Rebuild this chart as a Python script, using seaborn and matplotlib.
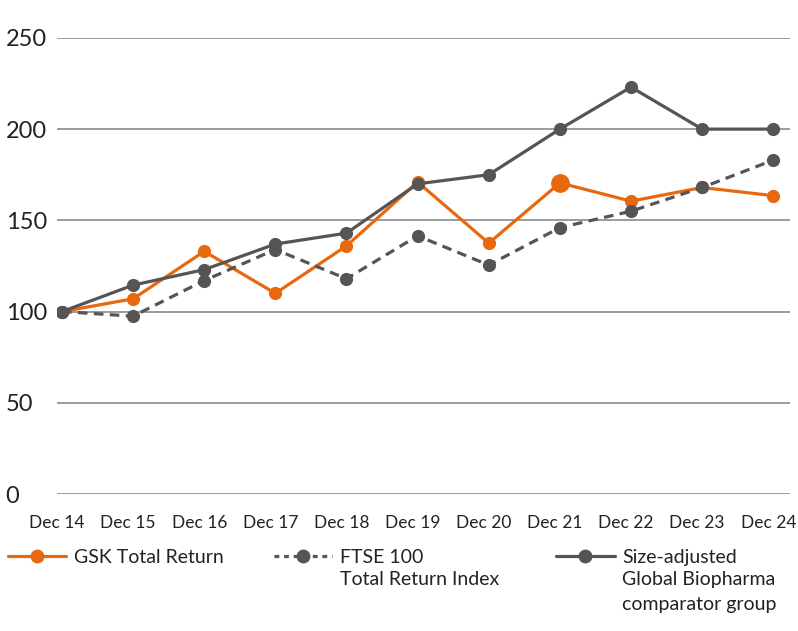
import matplotlib
matplotlib.use("Agg")
import matplotlib.pyplot as plt
import matplotlib.transforms as mtransforms
import seaborn as sns
import pandas as pd
from matplotlib.lines import Line2D

sns.set_style("white")
plt.rcParams['font.family'] = ['Lato', 'DejaVu Sans']

# values (index, Dec 14 = 100)
years = ["Dec 14", "Dec 15", "Dec 16", "Dec 17", "Dec 18", "Dec 19",
         "Dec 20", "Dec 21", "Dec 22", "Dec 23", "Dec 24"]
gsk = [100, 107, 133, 110, 136, 171, 137.5, 170.5, 160.5, 168, 163.5]
ftse = [100, 97.5, 117, 134, 118, 141.5, 125.5, 146, 155, 168, 183]
biopharma = [100, 114.5, 123, 137, 143, 170, 175, 200, 223, 200, 200]
yticks = [0, 50, 100, 150, 200, 250]

orange = "#E8680F"
grey = "#555555"

df = pd.DataFrame({"x": range(len(years)), "gsk": gsk, "ftse": ftse, "bio": biopharma})

fig = plt.figure(figsize=(7.98, 6.31), dpi=100)
ax = fig.add_axes([0.0714, 0.217, 0.919, 0.723])

sns.lineplot(data=df, x="x", y="gsk", ax=ax, color=orange, lw=2.3,
             marker="o", markersize=9.5, markeredgewidth=0, zorder=3)
# highlighted Dec 21 point
ax.plot(df["x"][7], df["gsk"][7], "o", color=orange, markersize=12.5, zorder=3)
sns.lineplot(data=df, x="x", y="ftse", ax=ax, color=grey, lw=2.3,
             marker="o", markersize=9.5, markeredgewidth=0, zorder=4)
ax.lines[-1].set_dashes([3, 2])
sns.lineplot(data=df, x="x", y="bio", ax=ax, color=grey, lw=2.3,
             marker="o", markersize=9.5, markeredgewidth=0, zorder=5)

ax.set_ylim(0, 250)
ax.set_xlim(-0.07, 10.24)
ax.set_yticks(yticks)
ax.set_xticks(range(len(years)))
ax.set_xticklabels(years)
ax.yaxis.grid(True, color="#8a8a8a", lw=1.2)
ax.xaxis.grid(False)
for s in ax.spines.values():
    s.set_visible(False)
ax.set_xlabel("")
ax.set_ylabel("")
ax.tick_params(axis="y", length=0, labelsize=17, colors="#222222", pad=37)
for t in ax.get_yticklabels():
    t.set_ha("left")
ax.tick_params(axis="x", length=0, labelsize=12.5, colors="#222222", pad=15)
shift = mtransforms.ScaledTranslation(-5 / 100, 0, fig.dpi_scale_trans)
for t in ax.get_xticklabels():
    t.set_transform(t.get_transform() + shift)

# legend below the plot
handles = [
    Line2D([], [], color=orange, lw=2.3, marker="o", markersize=9),
    Line2D([], [], color=grey, lw=2.3, marker="o", markersize=9, dashes=[1.5, 1.5]),
    Line2D([], [], color=grey, lw=2.3, marker="o", markersize=9),
]
first = ["GSK Total Return", "FTSE 100", "Size-adjusted"]
extra = [[], ["Total Return Index"], ["Global Biopharma", "comparator group"]]
xs = [0.01, 0.343, 0.697]
legs = []
for h, lab, x0 in zip(handles, first, xs):
    lg = fig.legend(handles=[h], labels=[lab], loc="upper left",
                    bbox_to_anchor=(x0, 0.13), frameon=False, fontsize=14,
                    handlelength=3.0, handletextpad=0.4, borderpad=0,
                    borderaxespad=0, labelcolor="#222222")
    legs.append(lg)

fig.canvas.draw()
inv = fig.transFigure.inverted()
for lg, lines in zip(legs, extra):
    bb = lg.get_texts()[0].get_window_extent()
    x0, y0 = inv.transform((bb.x0, bb.y0))
    for i, line in enumerate(lines):
        fig.text(x0, y0 - 0.008 - i * 0.039, line, fontsize=14, color="#222222",
                 ha="left", va="top")

fig.savefig("out.png", dpi=100)
